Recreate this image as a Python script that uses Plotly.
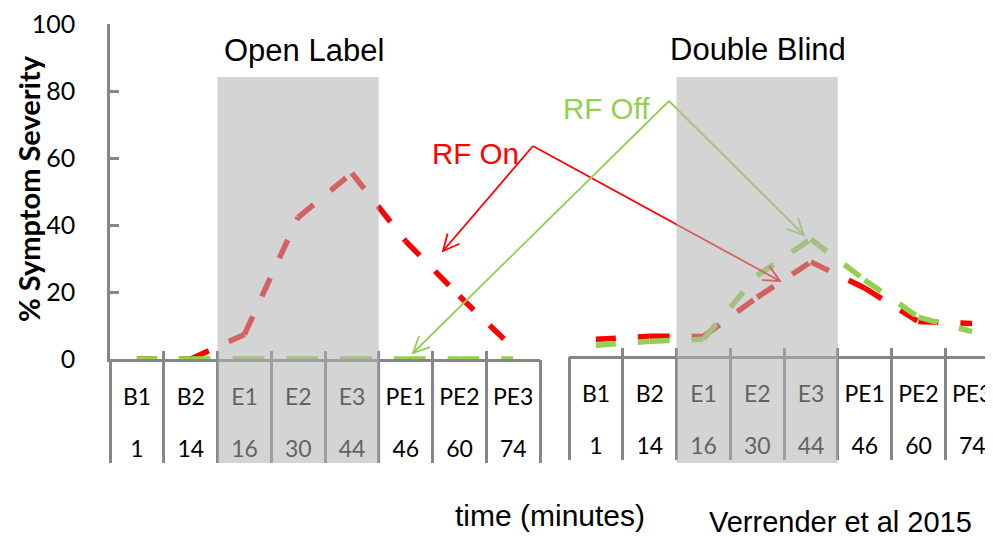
import math
import plotly.graph_objects as go

# ---------------- data ----------------
categories = ["B1", "B2", "E1", "E2", "E3", "PE1", "PE2", "PE3"]
minutes = ["1", "14", "16", "30", "44", "46", "60", "74"]
open_label_rf_on = [0, 0, 7.3, 42.3, 55.5, 35.2, 18.8, 3.3]
open_label_rf_off = [0, 0, 0, 0, 0, 0, 0, 0]
double_blind_rf_on = [5.0, 5.9, 5.8, 17.5, 28.1, 20.3, 10.3, 9.7]
double_blind_rf_off = [3.2, 4.4, 5.0, 24.0, 34.9, 22.7, 11.6, 7.3]
y_ticks = [0, 20, 40, 60, 80, 100]
exposure_first, exposure_last = "E1", "E3"

# ---------------- style ----------------
RED = "#FF0000"
GREEN = "#92D050"
AXIS = "#878787"
SHADE = "rgba(177,177,177,0.55)"
CAL = "Lato, Carlito, Calibri, sans-serif"
ARIAL = "Liberation Sans, Arial, sans-serif"

OFF = 8  # the page body adds an 8px margin around the figure
W, H = 993 - OFF, 537 - OFF
L, R, T = 110 - OFF, 0, 24 - OFF
PLOT_BOTTOM = 359 - OFF
B = H - PLOT_BOTTOM
PW, PH = W - L - R, H - T - B
CAT_PX = 53.75
n = len(categories)
xi = list(range(n))
bounds = [i - 0.5 for i in range(n + 1)]
RIGHT_START = 569 - OFF - L

left_dom = [0, n * CAT_PX / PW]
right_dom = [RIGHT_START / PW, 1]
left_rng = [-0.5, n - 0.5]
right_rng = [-0.5, -0.5 + (PW - RIGHT_START) / CAT_PX]
y2_shift = 3  # right panel sits 3px higher


def px(x):
    """reference-image x pixel -> paper fraction"""
    return (x - OFF - L) / PW


def py(y):
    """reference-image y pixel -> paper fraction"""
    return (PLOT_BOTTOM - (y - OFF)) / PH


fig = go.Figure()


def add_series(vals, color, xa, ya):
    # Excel restarts the dash pattern at each vertex -> one segment per trace
    for i in range(n - 1):
        fig.add_trace(go.Scatter(
            x=[xi[i], xi[i + 1]], y=[vals[i], vals[i + 1]], mode="lines",
            line=dict(color=color, width=5.5, dash="20px,22px"),
            xaxis=xa, yaxis=ya, showlegend=False, hoverinfo="skip"))


# RF On on the main axes, RF Off on the overlaid (minutes) axes -> drawn on top
add_series(open_label_rf_on, RED, "x", "y")
add_series(open_label_rf_off, GREEN, "x3", "y")
add_series(double_blind_rf_on, RED, "x2", "y2")
add_series(double_blind_rf_off, GREEN, "x4", "y2")

shift = int(round(CAT_PX / 2))


def label_axis(domain, rng, anchor):
    return dict(domain=domain, range=rng, anchor=anchor, tickmode="array",
                tickvals=bounds, ticktext=categories + [""],
                ticks="inside", ticklen=8, tickwidth=2.5, tickcolor=AXIS,
                showline=True, linecolor=AXIS, linewidth=2.5,
                showgrid=False, zeroline=False, automargin=False,
                ticklabeloverflow="allow",
                tickfont=dict(family=CAL, size=23, color="black"),
                ticklabelshift=shift, ticklabelstandoff=16)


def minute_axis(over, rng, anchor):
    return dict(overlaying=over, range=rng, anchor=anchor, tickmode="array",
                tickvals=bounds, ticktext=minutes + [""],
                ticks="outside", ticklen=103, tickwidth=2.5, tickcolor=AXIS,
                showline=False, showgrid=False, zeroline=False, automargin=False,
                ticklabeloverflow="allow",
                tickfont=dict(family=CAL, size=23, color="black"),
                ticklabelshift=shift, ticklabelstandoff=-34)


# shaded exposure blocks + arrows drawn as shapes above everything
i0 = categories.index(exposure_first) - 0.5
i1 = categories.index(exposure_last) + 0.5

shapes = []
arrows = [((533, 146), (443, 251), RED), ((533, 146), (780, 281), RED),
          ((669, 101), (413, 353), GREEN), ((669, 101), (804, 235), GREEN)]
for (ax_, ay_), (tx, ty), col in arrows:
    shapes.append(dict(type="line", xref="paper", yref="paper",
                       x0=px(ax_), y0=py(ay_), x1=px(tx), y1=py(ty),
                       line=dict(color=col, width=1.8), layer="above"))
    ang = math.atan2(ay_ - ty, ax_ - tx)
    pts = []
    for d in (-0.45, 0.45):
        pts.append((tx + 18 * math.cos(ang + d), ty + 18 * math.sin(ang + d)))
    path = "M {} {} L {} {} L {} {}".format(px(pts[0][0]), py(pts[0][1]), px(tx), py(ty),
                                            px(pts[1][0]), py(pts[1][1]))
    shapes.append(dict(type="path", xref="paper", yref="paper", path=path,
                       line=dict(color=col, width=1.8), layer="above"))

for xr in ("x", "x2"):
    shapes.append(dict(type="rect", xref=xr, yref="paper", x0=i0, x1=i1,
                       y0=py(463), y1=py(77), fillcolor=SHADE,
                       line=dict(width=0), layer="above"))

annotations = [
    dict(text="Open Label", x=px(303.5), y=py(50), font=dict(family=ARIAL, size=31, color="black")),
    dict(text="Double Blind", x=px(757.5), y=py(49), font=dict(family=ARIAL, size=31, color="black")),
    dict(text="RF On", x=px(475), y=py(153.5), font=dict(family=ARIAL, size=29.5, color=RED)),
    dict(text="RF Off", x=px(606), y=py(108.5), font=dict(family=ARIAL, size=29.5, color=GREEN)),
    dict(text="time (minutes)", x=px(550), y=py(515), font=dict(family=ARIAL, size=30, color="black")),
    dict(text="Verrender et al 2015", x=px(840), y=py(522), font=dict(family=ARIAL, size=29, color="black")),
    dict(text="<b>% Symptom Severity</b>", x=px(28), y=py(189), textangle=-90,
         font=dict(family=CAL, size=29, color="black")),
]
for a in annotations:
    a.update(xref="paper", yref="paper", showarrow=False, xanchor="center", yanchor="middle")

fig.update_layout(
    template="none",
    width=W, height=H, margin=dict(l=L, r=R, t=T, b=B, autoexpand=False),
    paper_bgcolor="white", plot_bgcolor="white", showlegend=False,
    xaxis=label_axis(left_dom, left_rng, "y"),
    xaxis2=label_axis(right_dom, right_rng, "y2"),
    xaxis3=minute_axis("x", left_rng, "y"),
    xaxis4=minute_axis("x2", right_rng, "y2"),
    yaxis=dict(domain=[0, 1], range=[0, 100], anchor="x", tickmode="array",
               tickvals=y_ticks, ticks="inside", ticklen=9, tickwidth=2.5,
               tickcolor=AXIS, showline=True, linecolor=AXIS, linewidth=2.5,
               showgrid=False, zeroline=False, automargin=False,
               ticklabeloverflow="allow",
               tickfont=dict(family=CAL, size=25, color="black"),
               ticklabelstandoff=27),
    yaxis2=dict(domain=[y2_shift / PH, 1], range=[0, 100 * (PH - y2_shift) / PH],
                anchor="x2", visible=False, automargin=False),
    shapes=shapes, annotations=annotations,
)

fig.write_html("out.html")
